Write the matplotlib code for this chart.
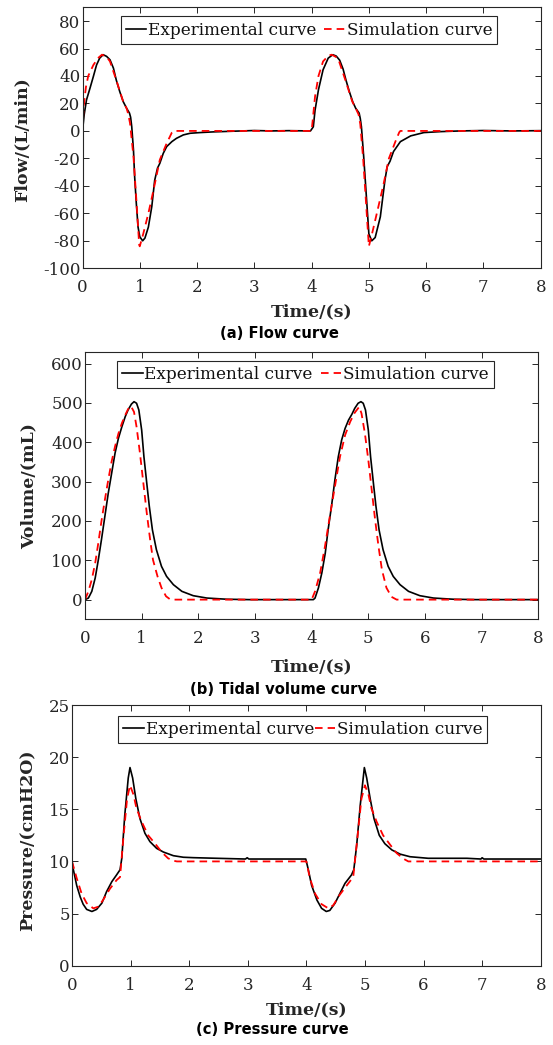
import matplotlib
matplotlib.use('Agg')
import matplotlib.pyplot as plt
import numpy as np

# ---------------- data ----------------
# (a) Flow, L/min
flow_exp_t = [0, 0.03, 0.07, 0.13, 0.19, 0.245, 0.30, 0.36, 0.42, 0.48, 0.54, 0.59, 0.65, 0.71, 0.77,
              0.82, 0.84, 0.86, 0.89, 0.91, 0.94, 0.97, 1.00, 1.05, 1.09, 1.15, 1.21, 1.26, 1.31, 1.35,
              1.41, 1.47, 1.56, 1.64, 1.76, 1.88, 2.05, 2.28, 2.63, 3.0, 3.3, 3.6, 3.98,
              4.03, 4.06, 4.12, 4.2, 4.29, 4.37, 4.43, 4.49, 4.55, 4.6, 4.66, 4.72, 4.77, 4.83, 4.85,
              4.87, 4.91, 4.96, 5.0, 5.05, 5.11, 5.2, 5.28, 5.32, 5.37, 5.43, 5.55, 5.73, 5.96, 6.25,
              6.6, 7.0, 7.5, 8.0]
flow_exp_v = [0, 12, 22.6, 31, 39.7, 48, 53, 55.5, 54.3, 51.8, 45.7, 37, 28.7, 21.4, 16.5,
              13, 10, 3, -14, -33, -53, -70, -77, -80, -78, -70, -55, -36, -27, -23.6,
              -16.3, -11.4, -7.8, -5.4, -2.9, -1.7, -1.2, -0.7, -0.2, 0.3, 0, 0.2, 0,
              3, 15, 30, 44.5, 53, 55.5, 54.5, 51.5, 45, 37, 28.5, 21, 16.5, 13, 9,
              3, -19, -50, -75, -80, -77.6, -62.5, -36, -26, -22, -15, -7.8, -3.6, -1.2, -0.5,
              0, 0.3, 0, 0.2]
flow_sim_t = [0, 0.02, 0.06, 0.1, 0.19, 0.27, 0.34, 0.42, 0.48, 0.59, 0.71, 0.77, 0.80, 0.83, 0.89,
              0.94, 0.99, 1.0, 1.06, 1.15, 1.24, 1.35, 1.47, 1.56, 1.59, 4.0,
              4.02, 4.06, 4.12, 4.2, 4.29, 4.35, 4.42, 4.48, 4.59, 4.71, 4.77, 4.82, 4.85, 4.9,
              4.95, 5.0, 5.06, 5.15, 5.25, 5.35, 5.47, 5.53, 5.55, 8.0]
flow_sim_v = [0, 18, 32, 40, 48, 53, 55.5, 54, 50.6, 37, 21.4, 16.5, 12, 5.6, -18.7,
              -50, -83, -84, -75, -60, -43, -21, -9, -1.2, 0, 0,
              8, 25, 40, 50.6, 54.7, 55.5, 54, 50.6, 37, 21.4, 16.5, 12, 5, -20,
              -52, -84, -74, -58, -40, -20, -7, -1, 0, 0]

# (b) Tidal volume, mL
vol_exp_t = [0, 0.06, 0.12, 0.18, 0.235, 0.29, 0.35, 0.41, 0.47, 0.53, 0.59, 0.65, 0.71, 0.76, 0.82,
             0.865, 0.91, 0.95, 1.0, 1.04, 1.09, 1.135, 1.19, 1.26, 1.35, 1.44, 1.56, 1.71, 1.91,
             2.15, 2.5, 2.9, 4.03,
             4.06, 4.12, 4.18, 4.24, 4.29, 4.35, 4.41, 4.47, 4.53, 4.59, 4.65, 4.71, 4.76, 4.82,
             4.87, 4.91, 4.95, 5.0, 5.04, 5.09, 5.135, 5.19, 5.26, 5.35, 5.44, 5.56, 5.71, 5.91,
             6.15, 6.5, 6.9, 8.0]
vol_exp_v = [0, 4, 21, 55, 101, 152, 211, 270, 321, 372, 410, 439, 465, 482, 497,
             503, 499, 482, 431, 363, 296, 237, 177, 127, 84.5, 59, 38, 21, 10,
             4, 1, 0, 0,
             4, 30, 68, 118, 177, 237, 304, 363, 406, 435, 456, 471, 486, 499,
             503, 499, 482, 431, 363, 296, 237, 177, 127, 84.5, 59, 38, 21, 10,
             4, 1, 0, 0]
vol_sim_t = [0, 0.06, 0.12, 0.18, 0.235, 0.29, 0.35, 0.41, 0.47, 0.53, 0.59, 0.65, 0.71, 0.76, 0.81,
             0.865, 0.91, 0.97, 1.03, 1.09, 1.15, 1.2, 1.28, 1.35, 1.43, 1.5, 1.56, 4.0,
             4.06, 4.15, 4.235, 4.32, 4.41, 4.5, 4.59, 4.68, 4.76, 4.84, 4.88, 4.94, 5.0, 5.06,
             5.12, 5.18, 5.24, 5.32, 5.41, 5.5, 8.0]
vol_sim_v = [0, 21, 51, 93, 144, 199, 253, 304, 351, 389, 422, 448, 469, 484, 492,
             477, 439, 372, 296, 220, 152, 101, 59, 30, 8.5, 1, 0, 0,
             21, 68, 135, 211, 287, 363, 418, 452, 475, 490, 473, 422, 355, 279,
             203, 135, 76, 30, 7, 0, 0]

# (c) Pressure, cmH2O
pres_exp_t = [0, 0.02, 0.08, 0.14, 0.19, 0.25, 0.34, 0.42, 0.51, 0.59, 0.68, 0.76, 0.82, 0.85, 0.9,
              0.96, 0.99, 1.035, 1.09, 1.16, 1.245, 1.33, 1.445, 1.56, 1.73, 1.9, 2.07, 2.47,
              2.96, 2.99, 3.02, 3.6, 3.99,
              4.03, 4.09, 4.18, 4.26, 4.34, 4.4, 4.49, 4.57, 4.66, 4.77, 4.81, 4.86, 4.92, 4.99,
              5.03, 5.09, 5.155, 5.245, 5.34, 5.46, 5.6, 5.77, 6.08, 6.74, 6.98, 7.0, 7.03, 8.0]
pres_exp_v = [10, 9.3, 7.7, 6.6, 5.9, 5.4, 5.2, 5.4, 6.0, 7.1, 8.06, 8.7, 9.2, 10.3, 14.4,
              18, 19.0, 18, 16, 14.1, 12.7, 11.9, 11.25, 10.9, 10.55, 10.4, 10.36, 10.3,
              10.23, 10.35, 10.23, 10.23, 10.23,
              9.3, 7.7, 6.3, 5.5, 5.2, 5.3, 6.0, 6.9, 7.9, 8.7, 9.2, 11.6, 15.4, 19.0,
              18, 16, 14.1, 12.5, 11.7, 11.1, 10.7, 10.45, 10.3, 10.3, 10.23, 10.35, 10.23, 10.23]
pres_sim_t = [0, 0.08, 0.165, 0.25, 0.364, 0.45, 0.53, 0.65, 0.76, 0.82, 0.876, 0.94, 0.99, 1.05,
              1.1, 1.19, 1.3, 1.42, 1.53, 1.64, 1.73, 1.79, 4.0,
              4.06, 4.15, 4.26, 4.375, 4.46, 4.57, 4.69, 4.8, 4.87, 4.94, 5.0, 5.06, 5.11, 5.2,
              5.31, 5.43, 5.54, 5.66, 5.74, 8.0]
pres_sim_v = [10, 8.4, 6.9, 6.0, 5.5, 5.66, 6.3, 7.4, 8.2, 8.5, 12.2, 16, 17.3, 16.4,
              15.1, 13.8, 12.5, 11.7, 10.9, 10.3, 10.07, 10.0, 10.0,
              8.4, 6.9, 5.9, 5.5, 5.8, 6.8, 7.7, 8.5, 12.2, 16, 17.3, 16.4, 15.1, 13.8,
              12.5, 11.6, 10.8, 10.25, 10.0, 10.0]

x_ticks = [0, 1, 2, 3, 4, 5, 6, 7, 8]
flow_ticks = [-100, -80, -60, -40, -20, 0, 20, 40, 60, 80]
vol_ticks = [0, 100, 200, 300, 400, 500, 600]
pres_ticks = [0, 5, 10, 15, 20, 25]

legend_labels = ['Experimental curve', 'Simulation curve']
ylabels = ['Flow/(L/min)', 'Volume/(mL)', 'Pressure/(cmH2O)']
xlabel = 'Time/(s)'
titles = ['(a) Flow curve', '(b) Tidal volume curve', '(c) Pressure curve']

# ---------------- drawing ----------------
plt.rcParams['font.family'] = ['DejaVu Serif']
plt.rcParams['axes.unicode_minus'] = False
W, H = 553, 1045
fig = plt.figure(figsize=(W / 100, H / 100), dpi=100)
GRAY = '#262626'


def px_axes(x0, y0, x1, y1):
    return fig.add_axes([x0 / W, 1 - y1 / H, (x1 - x0) / W, (y1 - y0) / H])


def ftext(x, y, s, **kw):
    fig.text(x / W, 1 - y / H, s, ha='center', va='center', **kw)


panels = [
    dict(box=(82.5, 7.3, 540.7, 268.3), ylim=(-100, 90), yt=flow_ticks,
         exp=(flow_exp_t, flow_exp_v), sim=(flow_sim_t, flow_sim_v),
         leg=(0.083, 0.965), colsp=0.5, ylab_x=22, ylab_y=140, xlab_y=312, title=(279, 334)),
    dict(box=(85, 351.7, 538.3, 619.3), ylim=(-50, 630), yt=vol_ticks,
         exp=(vol_exp_t, vol_exp_v), sim=(vol_sim_t, vol_sim_v),
         leg=(0.071, 0.966), colsp=0.5, ylab_x=29, ylab_y=486, xlab_y=667, title=(284, 689)),
    dict(box=(72, 705, 540.7, 965.7), ylim=(0, 25), yt=pres_ticks,
         exp=(pres_exp_t, pres_exp_v), sim=(pres_sim_t, pres_sim_v),
         leg=(0.099, 0.959), colsp=0.05, ylab_x=28, ylab_y=840, xlab_y=1010, title=(272, 1030)),
]

for i, p in enumerate(panels):
    ax = px_axes(*p['box'])
    ax.plot(p['exp'][0], p['exp'][1], color='black', lw=1.2, label=legend_labels[0])
    ax.plot(p['sim'][0], p['sim'][1], color='#ff0000', lw=1.3, ls=(0, (4.2, 2.8)),
            label=legend_labels[1])
    ax.set_xlim(0, 8)
    ax.set_ylim(*p['ylim'])
    ax.set_xticks(x_ticks)
    ax.set_yticks(p['yt'])
    ax.tick_params(axis='both', direction='in', top=True, right=True, length=4, width=0.7,
                   color=GRAY, labelcolor=GRAY, labelsize=12)
    ax.tick_params(axis='x', pad=8)
    ax.tick_params(axis='y', pad=1.5)
    for s in ax.spines.values():
        s.set_color(GRAY)
        s.set_linewidth(0.8)
    leg = ax.legend(loc='upper left', bbox_to_anchor=p['leg'], ncol=2, fontsize=12.2,
                    frameon=True, fancybox=False, framealpha=1, edgecolor=GRAY,
                    handlelength=1.2, handletextpad=0.1, columnspacing=p['colsp'],
                    borderpad=0.3, borderaxespad=0)
    leg.get_frame().set_linewidth(0.8)
    for t in leg.get_texts():
        t.set_color('#111111')
    cx = (p['box'][0] + p['box'][2]) / 2
    ftext(cx, p['xlab_y'], xlabel, fontsize=12.5, fontweight='bold', color=GRAY)
    ftext(p['ylab_x'], p['ylab_y'], ylabels[i], fontsize=12.5, fontweight='bold',
          rotation=90, color=GRAY)
    ftext(p['title'][0], p['title'][1], titles[i], fontsize=10.6, fontweight='bold',
          family=['DejaVu Sans'], color='black')

fig.savefig('out.png', dpi=100)
